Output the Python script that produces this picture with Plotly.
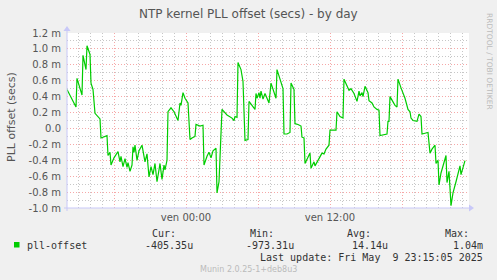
import pandas as pd
import plotly.graph_objects as go

# ---- data -------------------------------------------------------------
# sample times: minutes relative to Fri 2025-05-09 00:00
minutes = [-595,-550,-545,-520,-515,-500,-495,-480,-475,-465,-455,-435,-430,-425,-410,-395,-390,-380,-375,-360,
           -340,-330,-325,-315,-305,-295,-290,-280,-270,-265,-260,-255,-245,-235,-220,-205,-195,-190,-185,-175,
           -165,-155,-145,-135,-130,-120,-110,-105,-95,-90,-75,-60,-40,-30,-25,-15,-5,10,20,30,
           45,50,70,85,90,105,115,125,135,150,155,165,180,205,230,240,245,255,260,275,
           285,295,310,315,335,345,350,355,365,370,375,385,395,410,415,425,435,450,455,470,
           485,490,505,520,525,540,545,560,575,580,590,595,605,620,625,640,645,660,675,680,
           690,700,715,720,750,755,770,785,790,805,815,825,835,840,855,865,870,880,885,895,
           910,915,930,940,955,965,970,985,1005,1010,1015,1020,1035,1045,1055,1060,1075,1085,1095,1110,
           1120,1125,1135,1155,1165,1175,1180,1195,1210,1220,1230,1245,1250,1260,1265,1275,1290,1300,1305,1310,
           1315,1325,1335,1350,1360,1370,1375,1385,1390,1395]
# pll-offset in milliseconds
offset_ms = [0.49,0.27,0.63,0.42,0.92,0.74,1.04,0.93,0.57,0.49,0.19,0.14,0.12,-0.12,-0.10,-0.09,-0.34,-0.30,-0.46,-0.37,
             -0.29,-0.42,-0.35,-0.48,-0.38,-0.49,-0.43,-0.54,-0.46,-0.23,-0.30,-0.21,-0.40,-0.28,-0.21,-0.42,-0.32,-0.48,-0.61,-0.48,
             -0.58,-0.44,-0.67,-0.52,-0.44,-0.64,-0.46,-0.52,-0.40,0.21,0.26,0.21,0.10,0.32,0.29,0.45,0.38,0.32,-0.14,-0.12,
             -0.10,0.05,0.03,0.04,-0.46,-0.35,-0.30,-0.37,-0.28,-0.25,-0.81,-0.67,0.24,0.17,0.13,0.10,0.15,0.14,0.83,0.74,
             0.59,-0.15,-0.14,0.34,0.28,0.24,0.44,0.38,0.45,0.38,0.47,0.37,0.44,0.36,0.32,0.57,0.49,0.38,0.74,0.63,
             0.50,-0.07,-0.07,-0.05,0.57,0.49,0.06,0.05,0.03,-0.11,-0.12,-0.44,-0.38,-0.31,-0.50,-0.42,-0.47,-0.40,-0.34,-0.31,
             -0.32,-0.26,-0.21,-0.02,-0.02,0.21,0.15,0.13,0.62,0.53,0.48,0.50,0.45,0.44,0.34,0.47,0.41,0.45,0.40,0.53,
             0.45,0.35,0.32,0.27,0.24,0.23,-0.09,-0.08,-0.07,0.09,0.09,0.40,0.34,0.29,0.27,0.62,0.51,0.45,0.38,0.24,
             0.21,0.13,0.10,0.09,0.18,0.15,-0.07,-0.06,-0.05,-0.31,-0.26,-0.21,-0.44,-0.40,-0.71,-0.56,-0.44,-0.34,-0.68,-0.60,
             -0.54,-0.97,-0.81,-0.67,-0.56,-0.47,-0.58,-0.48,-0.44,-0.405]
assert len(minutes) == len(offset_ms)

y_tickvals = [-1.0, -0.8, -0.6, -0.4, -0.2, 0.0, 0.2, 0.4, 0.6, 0.8, 1.0, 1.2]
y_ticktext = ["-1.0 m", "-0.8 m", "-0.6 m", "-0.4 m", "-0.2 m", "0.0", "0.2 m", "0.4 m",
              "0.6 m", "0.8 m", "1.0 m", "1.2 m"]
x_ticktimes = ["2025-05-08 18:00", "2025-05-09 00:00", "2025-05-09 06:00", "2025-05-09 12:00", "2025-05-09 18:00"]
x_ticktext = ["", "ven 00:00", "", "ven 12:00", ""]

legend_name = "pll-offset"
stats_labels = ["Cur:", "Min:", "Avg:", "Max:"]
stats_values = ["-405.35u", "-973.31u", "14.14u", "1.04m"]
last_update = "Last update: Fri May  9 23:15:05 2025"
title_text = "NTP kernel PLL offset (secs) - by day"
y_title = "PLL offset (secs)"
watermark = "RRDTOOL / TOBI OETIKER"
footer = "Munin 2.0.25-1+deb8u3"

# ---- figure -----------------------------------------------------------
W, H = 497, 280
L, R, T, B = 67, 469, 33, 208   # plot area in pixels


def px(x):
    return (x - L) / (R - L)


def py(y):
    return (B - y) / (B - T)


base = pd.Timestamp("2025-05-09 00:00")
times = [base + pd.Timedelta(minutes=m) for m in minutes]

GREEN = "#00CC00"
TXT = "#555555"
AXIS = "#C8C8F8"
MAJ = "rgba(240,110,110,0.6)"
MIN = "rgba(175,175,175,0.7)"
DOT = "1px,2px"

fig = go.Figure()
fig.add_trace(go.Scatter(x=times, y=offset_ms, mode="lines",
                         line=dict(color=GREEN, width=1.2), showlegend=False,
                         hoverinfo="skip"))

minor_y = [v / 10 for v in range(-9, 12, 2)]
minor_x = [base + pd.Timedelta(hours=h) for h in range(-9, 24) if h % 6 != 0]

fig.update_layout(
    width=W, height=H,
    margin=dict(l=L, r=W - R, t=T, b=H - B),
    paper_bgcolor="#F0F0F0", plot_bgcolor="#FFFFFF",
    font=dict(family="DejaVu Sans", size=10, color=TXT),
    showlegend=False,
    xaxis=dict(
        type="date",
        range=[base + pd.Timedelta(minutes=-595), base + pd.Timedelta(minutes=1415)],
        tickmode="array", tickvals=x_ticktimes, ticktext=x_ticktext,
        showgrid=True, gridcolor=MAJ, griddash=DOT, gridwidth=1,
        ticks="", showline=False, zeroline=False, ticklabelstandoff=2,
        tickfont=dict(family="DejaVu Sans", size=10, color=TXT),
        minor=dict(tickmode="array", tickvals=minor_x, showgrid=True,
                   gridcolor=MIN, griddash=DOT, gridwidth=1),
    ),
    yaxis=dict(
        range=[-1.0, 1.2],
        tickmode="array", tickvals=y_tickvals, ticktext=y_ticktext,
        showgrid=True, gridcolor=MAJ, griddash=DOT, gridwidth=1,
        ticks="", showline=False, zeroline=False,
        ticklabelstandoff=5,
        tickfont=dict(family="DejaVu Sans", size=10, color=TXT),
        minor=dict(tickmode="array", tickvals=minor_y, showgrid=True,
                   gridcolor=MIN, griddash=DOT, gridwidth=1),
    ),
)

# axes lines with arrows
fig.add_shape(type="line", xref="paper", yref="paper",
              x0=px(64), x1=px(471), y0=0, y1=0, line=dict(color=AXIS, width=1))
fig.add_shape(type="line", xref="paper", yref="paper",
              x0=0, x1=0, y0=py(211), y1=py(29), line=dict(color=AXIS, width=1))
fig.add_shape(type="path", xref="paper", yref="paper",
              path=f"M {px(469)},{py(204.5)} L {px(474)},{py(208)} L {px(469)},{py(211.5)} Z",
              fillcolor=AXIS, line=dict(color=AXIS, width=0))
fig.add_shape(type="path", xref="paper", yref="paper",
              path=f"M {px(63.5)},{py(31)} L {px(67)},{py(26)} L {px(70.5)},{py(31)} Z",
              fillcolor=AXIS, line=dict(color=AXIS, width=0))

ann = []
ann.append(dict(text=title_text, x=px(248), y=py(14), xanchor="center", yanchor="middle",
                font=dict(family="DejaVu Sans", size=12, color=TXT)))
ann.append(dict(text=y_title, x=px(11), y=py(117), xanchor="center", yanchor="middle", textangle=-90,
                font=dict(family="DejaVu Sans", size=11, color=TXT)))
ann.append(dict(text=watermark, x=px(490), y=py(61), xanchor="center", yanchor="middle", textangle=90,
                font=dict(family="DejaVu Sans", size=7.5, color="#BBBBBB")))

MONO = dict(family="DejaVu Sans Mono", size=10, color="#333333")
ann.append(dict(text=legend_name, x=px(26), y=py(245.5), xanchor="left", yanchor="middle", font=MONO))
label_right = [176, 274, 371, 469]
value_right = [193, 294, 388, 483]
for lab, xr in zip(stats_labels, label_right):
    ann.append(dict(text=lab, x=px(xr + 1), y=py(233.5), xanchor="right", yanchor="middle", font=MONO))
for val, xr in zip(stats_values, value_right):
    ann.append(dict(text=val, x=px(xr + 1), y=py(245.5), xanchor="right", yanchor="middle", font=MONO))
ann.append(dict(text=last_update, x=px(484), y=py(257.5), xanchor="right", yanchor="middle", font=MONO))
ann.append(dict(text=footer, x=px(248), y=py(269), xanchor="center", yanchor="middle",
                font=dict(family="DejaVu Sans", size=8, color="#BBBBBB")))
for a in ann:
    a.update(xref="paper", yref="paper", showarrow=False, borderpad=0)
fig.update_layout(annotations=ann)

# legend colour box
fig.add_shape(type="rect", xref="paper", yref="paper",
              x0=px(14), x1=px(19.5), y0=py(247.5), y1=py(242),
              fillcolor=GREEN, line=dict(color=GREEN, width=0))

fig.write_html("out.html")
